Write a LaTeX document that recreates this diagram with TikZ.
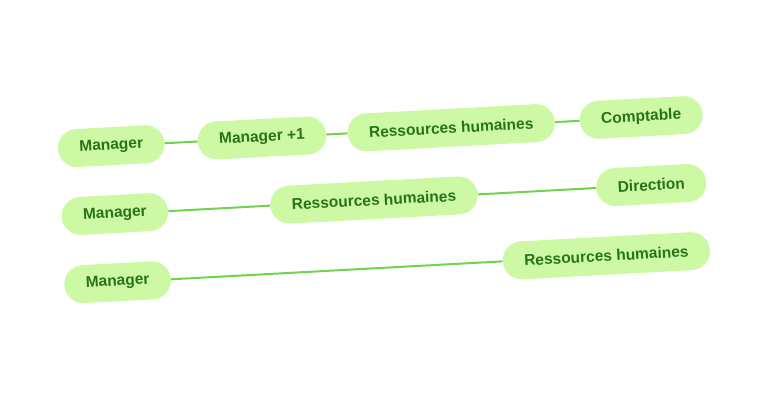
\documentclass[tikz,border=0pt]{standalone}
\usepackage{fontspec}
\setmainfont{Liberation Sans}
\usetikzlibrary{positioning}
\definecolor{pill}{RGB}{206,249,164}
\definecolor{ink}{RGB}{38,116,24}
\definecolor{wire}{RGB}{112,212,74}
\tikzset{
  role/.style={fill=pill,rounded corners=19pt,minimum height=38pt,inner xsep=21.5pt,
    font=\fontsize{15.5}{17}\selectfont\bfseries,text=ink},
  link/.style={draw=wire,line width=2pt}
}
\begin{document}
\begin{tikzpicture}[x=1pt,y=1pt]
\useasboundingbox (0,0) rectangle (767,400);
\begin{scope}[rotate around={3.1:(383.5,200)},transform shape]
% chaine 1
\node[role,anchor=west] (m1) at (61,268.5) {Manager};
\node[role] (mp1) at (265.5,268.5) {Manager +1};
\node[role] (rh1) at (455,268.5) {Ressources humaines};
\node[role,anchor=east] (cpt) at (707,268.5) {Comptable};
% chaine 2
\node[role,anchor=west] (m2) at (61,200.5) {Manager};
\node[role] (rh2) at (374,200.5) {Ressources humaines};
\node[role,anchor=east] (dir) at (707,200.5) {Direction};
% chaine 3
\node[role,anchor=west] (m3) at (60,132.3) {Manager};
\node[role,anchor=east] (rh3) at (707,132.3) {Ressources humaines};
\foreach \a/\b in {m1/mp1,mp1/rh1,rh1/cpt,m2/rh2,rh2/dir,m3/rh3}
  \draw[link] (\a.east) -- (\b.west);
\end{scope}
\end{tikzpicture}
\end{document}
